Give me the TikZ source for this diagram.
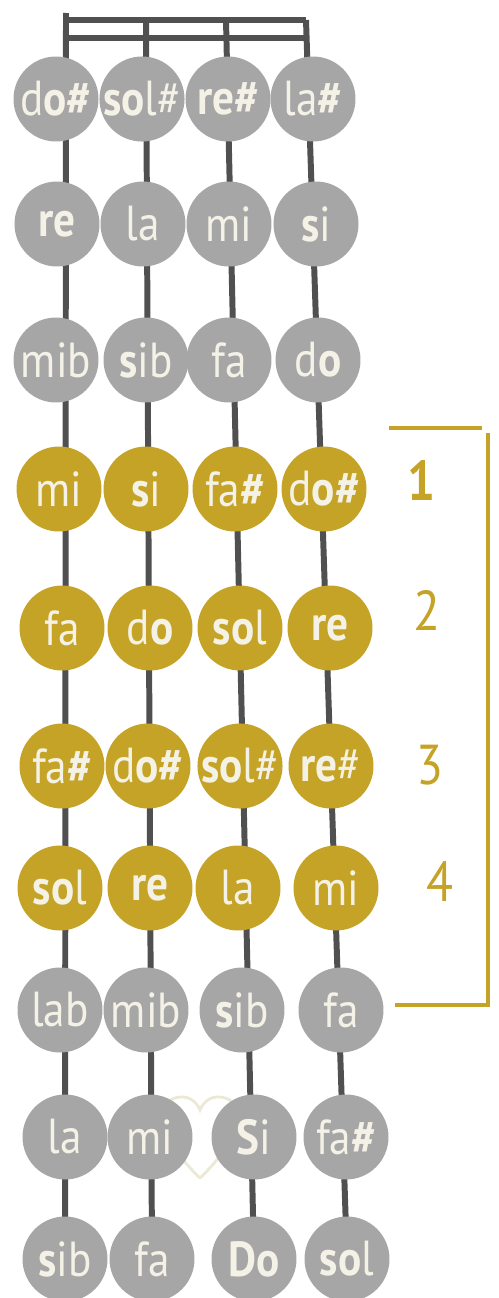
\documentclass[tikz,border=0pt]{standalone}
\usepackage{fontspec}
\setmainfont{PT Sans}[FakeStretch=0.88]
\usetikzlibrary{positioning,backgrounds}
\definecolor{gris}{HTML}{A6A6A6}
\definecolor{oro}{HTML}{C5A326}
\definecolor{crema}{HTML}{F4F1E6}
\definecolor{corazon}{HTML}{ECE8D6}
\definecolor{mastil}{HTML}{505050}
\newcommand{\nb}[1]{\textbf{#1}}

\begin{document}
\begin{tikzpicture}[x=0.02cm,y=-0.02cm,
  every node/.style={shape=circle,inner sep=0pt,minimum size=1.7cm,
    text=crema,font=\fontsize{28}{28}\selectfont},
  nota/.style={fill=gris},
  dedo/.style={fill=oro},
  cuerda/.style={draw=mastil,line width=3.4pt},
  num/.style={shape=rectangle,minimum size=0pt,fill=none,text=oro,
    font=\fontsize{32}{32}\selectfont}
]
\useasboundingbox (0,0) rectangle (499,1298);

% cejilla
\coordinate (t1) at (66,13);
\coordinate (t2) at (146,20);
\coordinate (t3) at (226,20);
\coordinate (t4) at (306,20);

% corazon
\draw[draw=corazon,line width=1.6pt]
  (200,1178) .. controls (160,1140) and (150,1100) .. (180,1097)
  .. controls (192,1096) and (198,1105) .. (200,1110)
  .. controls (202,1105) and (208,1096) .. (220,1097)
  .. controls (250,1100) and (240,1140) .. (200,1178);

% al aire
\node[nota] (n1-1) at (56,99) {d\nb{o\#}};
\node[nota] (n1-2) at (142,99) {\nb{so}l\#};
\node[nota] (n1-3) at (228,99) {\nb{re\#}};
\node[nota] (n1-4) at (313,99) {la\nb{\#}};

\node[nota] (n2-1) at (57,224) {\nb{re}};
\node[nota] (n2-2) at (143,224) {la};
\node[nota] (n2-3) at (229,224) {mi};
\node[nota] (n2-4) at (316,224) {\nb{s}i};

\node[nota] (n3-1) at (56,360) {mib};
\node[nota] (n3-2) at (146,360) {\nb{s}ib};
\node[nota] (n3-3) at (229,360) {fa};
\node[nota] (n3-4) at (318,360) {d\nb{o}};

% posicion
\node[dedo] (n4-1) at (59,489) {mi};
\node[dedo] (n4-2) at (146,489) {\nb{s}i};
\node[dedo] (n4-3) at (235,489) {fa\nb{\#}};
\node[dedo] (n4-4) at (324,489) {d\nb{o\#}};

\node[dedo] (n5-1) at (62,628) {fa};
\node[dedo] (n5-2) at (150,628) {d\nb{o}};
\node[dedo] (n5-3) at (240,628) {\nb{so}l};
\node[dedo] (n5-4) at (330,628) {\nb{re}};

\node[dedo] (n6-1) at (62,766) {fa\nb{\#}};
\node[dedo] (n6-2) at (148,766) {d\nb{o\#}};
\node[dedo] (n6-3) at (240,766) {\nb{so}l\#};
\node[dedo] (n6-4) at (331,766) {\nb{re}\#};

\node[dedo] (n7-1) at (60,888) {\nb{so}l};
\node[dedo] (n7-2) at (150,888) {\nb{re}};
\node[dedo] (n7-3) at (238,888) {la};
\node[dedo] (n7-4) at (336,888) {mi};

\node[nota] (n8-1) at (60,1010) {lab};
\node[nota] (n8-2) at (146,1010) {mib};
\node[nota] (n8-3) at (242,1010) {\nb{s}ib};
\node[nota] (n8-4) at (341,1010) {fa};

\node[nota] (n9-1) at (65,1137) {la};
\node[nota] (n9-2) at (150,1137) {mi};
\node[nota] (n9-3) at (254,1137) {\nb{S}i};
\node[nota] (n9-4) at (346,1137) {fa\nb{\#}};

\node[nota] (n10-1) at (65,1259) {\nb{s}ib};
\node[nota] (n10-2) at (152,1259) {fa};
\node[nota] (n10-3) at (254,1259) {\nb{Do}};
\node[nota] (n10-4) at (347,1259) {\nb{so}l};

\begin{scope}[on background layer]
  \foreach \c in {1,...,4}
    \draw[cuerda] (t\c) -- (n10-\c.center);
  \draw[cuerda] (t1 |- t2) -- (t4);
  \draw[cuerda] ([yshift=-0.36cm]t1 |- t2) -- ([yshift=-0.36cm]t4);
\end{scope}

% dedos
\draw[oro,line width=2.2pt] (389,428) -- (482,428);
\draw[oro,line width=2.2pt] (488,433) -- (488,1005) -- (395,1005);
\node[num] (d1) at (422,480) {\nb{1}};
\node[num] (d2) at (427,610) {2};
\node[num] (d3) at (430,765) {3};
\node[num] (d4) at (440,882) {4};
\end{tikzpicture}
\end{document}
